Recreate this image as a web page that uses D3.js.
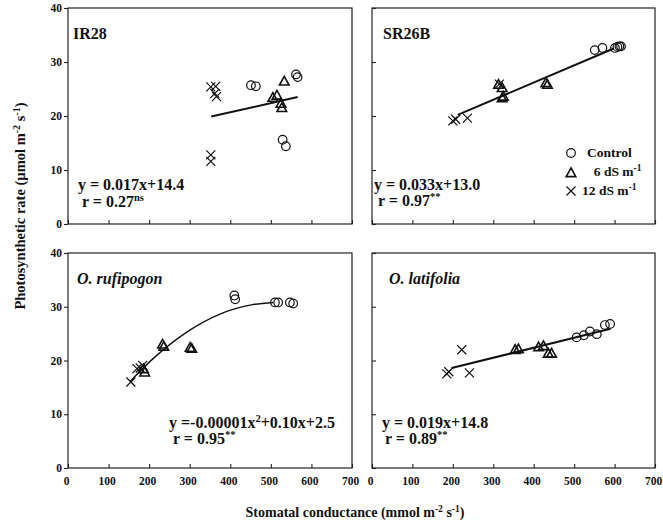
<!DOCTYPE html>
<html>
<head>
<meta charset="utf-8">
<script src="https://cdn.jsdelivr.net/npm/d3@7"></script>
<style>
  body { margin: 0; background: #fff; }
  svg { display: block; }
  text { font-family: "Liberation Serif", "Times New Roman", serif; font-weight: bold; fill: #111; }
</style>
</head>
<body>
<script>
// values: [stomatal conductance, photosynthetic rate]
const xTicks = [0, 100, 200, 300, 400, 500, 600, 700];
const yTicks = [0, 10, 20, 30, 40];

const ir28Control = [[451, 25.7], [463, 25.5], [562, 27.7], [566, 27.2], [529, 15.6], [537, 14.4]];
const ir28Ds6 = [[505, 23.4], [515, 23.8], [525, 22.3], [527, 21.5], [533, 26.4]];
const ir28Ds12 = [[352, 25.4], [364, 25.5], [366, 23.6], [362, 24.2], [352, 12.8], [352, 11.6]];
const ir28Fit = [[353, 19.9], [566, 23.5]];

const sr26Control = [[551, 32.2], [570, 32.6], [601, 32.6], [607, 32.8], [612, 32.9], [616, 32.9]];
const sr26Ds6 = [[313, 25.8], [322, 25.2], [325, 23.6], [322, 23.3], [430, 26.1], [434, 25.8]];
const sr26Ds12 = [[200, 19.1], [207, 19.4], [236, 19.6], [315, 25.9]];
const sr26Fit = [[212, 20.2], [598, 32.5]];

const rufControl = [[410, 32.1], [412, 31.4], [510, 30.8], [518, 30.8], [547, 30.8], [555, 30.6]];
const rufDs6 = [[233, 23.0], [236, 22.6], [301, 22.4], [305, 22.2], [186, 18.4], [189, 17.8]];
const rufDs12 = [[155, 16.0], [170, 18.5], [178, 18.6], [184, 19.1]];
const rufFit = [[153, 16.1], [209, 20.3], [291, 25.2], [373, 28.6], [455, 30.4], [506, 30.8]];

const latControl = [[506, 24.3], [524, 24.7], [539, 25.4], [556, 24.9], [576, 26.6], [589, 26.8]];
const latDs6 = [[354, 22.0], [362, 22.1], [412, 22.5], [424, 22.7], [436, 21.3], [444, 21.3]];
const latDs12 = [[185, 17.5], [190, 17.9], [222, 22.0], [241, 17.7]];
const latFit = [[197, 18.6], [590, 25.9]];

const legendLabels = [["Control", ""], ["  6 dS m", "-1"], ["12 dS m", "-1"]];

const svg = d3.select("body").append("svg")
  .attr("width", 663)
  .attr("height", 528);

const cols = [[68, 352], [372, 655]];
const rows = [[8, 224], [253, 468]];

function triangle(g, x, y) {
  g.append("path")
    .attr("d", "M" + x + "," + (y - 5) + "L" + (x + 4.8) + "," + (y + 3.6) + "L" + (x - 4.8) + "," + (y + 3.6) + "Z")
    .attr("fill", "none").attr("stroke", "#111").attr("stroke-width", 1.6);
}

function cross(g, x, y) {
  g.append("path")
    .attr("d", "M" + (x - 4.5) + "," + (y - 4.5) + "L" + (x + 4.5) + "," + (y + 4.5) + "M" + (x + 4.5) + "," + (y - 4.5) + "L" + (x - 4.5) + "," + (y + 4.5))
    .attr("fill", "none").attr("stroke", "#111").attr("stroke-width", 1.2);
}

function ring(g, x, y) {
  g.append("circle").attr("cx", x).attr("cy", y).attr("r", 4.3)
    .attr("fill", "none").attr("stroke", "#111").attr("stroke-width", 1.2);
}

// pieces = [[text, isSuperscript], ...]
function richText(t, pieces, size, supSize) {
  let up = false;
  pieces.forEach(s => {
    const sp = t.append("tspan").text(s[0]).attr("font-size", s[1] ? supSize : size);
    if (s[1] && !up) sp.attr("dy", -size * 0.38);
    if (!s[1] && up) sp.attr("dy", size * 0.38);
    up = s[1];
  });
}

function drawPanel(col, row, p) {
  const x = d3.scaleLinear().domain([0, 700]).range(cols[col]);
  const y = d3.scaleLinear().domain([0, 40]).range([rows[row][1], rows[row][0]]);
  const g = svg.append("g");

  // frame
  g.append("rect")
    .attr("x", cols[col][0]).attr("y", rows[row][0])
    .attr("width", cols[col][1] - cols[col][0]).attr("height", rows[row][1] - rows[row][0])
    .attr("fill", "none").attr("stroke", "#222").attr("stroke-width", 1.2);

  const xAxis = d3.axisBottom(x).tickValues(xTicks).tickSizeInner(-4).tickSizeOuter(0)
    .tickFormat(row == 1 ? d3.format("d") : "");
  const ax = g.append("g")
    .attr("transform", "translate(0," + rows[row][1] + ")")
    .call(xAxis);
  ax.select(".domain").remove();
  ax.selectAll("line").attr("stroke", "#222").attr("stroke-width", 1.1);
  ax.selectAll("text").attr("y", 8).attr("dy", "0.75em").attr("font-size", 11.5)
    .attr("font-family", "Liberation Serif").attr("font-weight", "bold").attr("dx", -2);

  const yAxis = d3.axisLeft(y).tickValues(yTicks).tickSizeInner(col == 0 ? 4 : -4).tickSizeOuter(0)
    .tickFormat(col == 0 ? d3.format("d") : "");
  const ay = g.append("g")
    .attr("transform", "translate(" + cols[col][0] + ",0)")
    .call(yAxis);
  ay.select(".domain").remove();
  ay.selectAll("line").attr("stroke", "#222").attr("stroke-width", 1.1);
  ay.selectAll("text").attr("x", -6).attr("font-size", 11.5)
    .attr("font-family", "Liberation Serif").attr("font-weight", "bold");

  // fitted line
  const line = d3.line().x(d => x(d[0])).y(d => y(d[1]));
  if (p.fit.length > 2) line.curve(d3.curveMonotoneX);
  g.append("path").datum(p.fit).attr("d", line)
    .attr("fill", "none").attr("stroke", "#111").attr("stroke-width", p.fit.length > 2 ? 1.4 : 2);

  p.control.forEach(d => ring(g, x(d[0]), y(d[1])));
  p.ds6.forEach(d => triangle(g, x(d[0]), y(d[1])));
  p.ds12.forEach(d => cross(g, x(d[0]), y(d[1])));

  // panel title
  g.append("text")
    .attr("x", cols[col][0] + p.titleDx).attr("y", rows[row][0] + 31)
    .attr("font-size", 16).attr("font-style", p.italic ? "italic" : "normal")
    .text(p.title);

  // equation + r
  const eq = g.append("text").attr("x", cols[col][0] + p.eqDx).attr("y", rows[row][0] + p.eqY);
  richText(eq, p.eq, 16, 10.5);
  const rt = g.append("text").attr("x", cols[col][0] + p.eqDx + p.rDx).attr("y", rows[row][0] + p.eqY + p.rDy);
  richText(rt, p.r, 16, 10.5);
}

drawPanel(0, 0, {
  title: "IR28", titleDx: 5, italic: false,
  control: ir28Control, ds6: ir28Ds6, ds12: ir28Ds12, fit: ir28Fit,
  eq: [["y = 0.017x+14.4", false]], r: [["r = 0.27", false], ["ns", true]],
  eqDx: 10, eqY: 182, rDx: 4, rDy: 17
});
drawPanel(1, 0, {
  title: "SR26B", titleDx: 11, italic: false,
  control: sr26Control, ds6: sr26Ds6, ds12: sr26Ds12, fit: sr26Fit,
  eq: [["y = 0.033x+13.0", false]], r: [["r = 0.97", false], ["**", true]],
  eqDx: 2, eqY: 182, rDx: 4, rDy: 16
});
drawPanel(0, 1, {
  title: "O. rufipogon", titleDx: 9, italic: true,
  control: rufControl, ds6: rufDs6, ds12: rufDs12, fit: rufFit,
  eq: [["y =-0.00001x", false], ["2", true], ["+0.10x+2.5", false]], r: [["r = 0.95", false], ["**", true]],
  eqDx: 101, eqY: 175, rDx: 4, rDy: 16
});
drawPanel(1, 1, {
  title: "O. latifolia", titleDx: 17, italic: true,
  control: latControl, ds6: latDs6, ds12: latDs12, fit: latFit,
  eq: [["y = 0.019x+14.8", false]], r: [["r = 0.89", false], ["**", true]],
  eqDx: 10, eqY: 175, rDx: 3, rDy: 16
});

// legend in SR26B panel
const lg = svg.append("g");
const legendY = [153, 172, 191];
ring(lg, 571, legendY[0]);
triangle(lg, 571, legendY[1] + 1);
cross(lg, 571, legendY[2]);
legendLabels.forEach((l, i) => {
  const t = lg.append("text").attr("x", i == 2 ? 582 : 587).attr("y", legendY[i] + 4)
    .attr("xml:space", "preserve");
  richText(t, l[1] ? [[l[0], false], [l[1], true]] : [[l[0], false]], 13.5, 9.5);
});

// axis titles
const xt = svg.append("text").attr("x", 355).attr("y", 517).attr("text-anchor", "middle");
richText(xt, [["Stomatal conductance (mmol m", false], ["-2", true], [" s", false], ["-1", true], [")", false]], 14, 9.5);

const yt = svg.append("text").attr("transform", "translate(25,206) rotate(-90)").attr("text-anchor", "middle");
richText(yt, [["Photosynthetic rate (\u00b5mol m", false], ["-2", true], [" s", false], ["-1", true], [")", false]], 14.5, 10);
</script>
</body>
</html>
